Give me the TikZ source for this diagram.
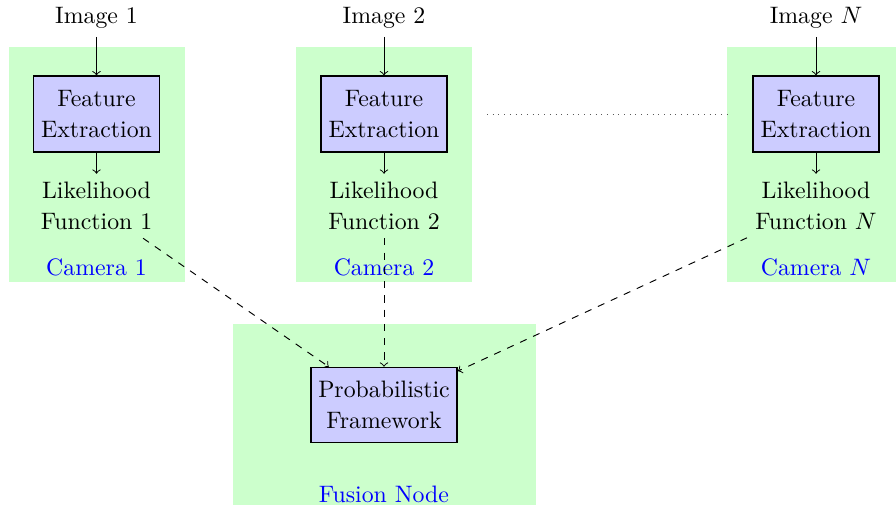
\documentclass[tikz,border=0pt]{standalone}
\usetikzlibrary{arrows}
\begin{document}
\begin{tikzpicture}[x=0.01477cm,y=-0.01477cm,
  every node/.style={font=\fontsize{10}{13}\selectfont},
  zone/.style={fill=green!20},
  procbox/.style={draw=black,semithick,fill=blue!20,align=center,
    minimum width=1.86cm,minimum height=1.12cm,inner sep=2pt},
  plain/.style={align=center},
  zonelabel/.style={text=blue},
  flow/.style={->},
  report/.style={->,dashed}]
\useasboundingbox (0,0) rectangle (896,505);

% shaded regions for each camera and the fusion node
\fill[zone] (9,47) rectangle (185,282);
\fill[zone] (296,47) rectangle (472,282);
\fill[zone] (727,47) rectangle (903,282);
\fill[zone] (233,324) rectangle (536,505);

% camera 1
\node[plain] (img1) at (96.5,18) {Image 1};
\node[procbox] (fe1) at (96.5,114) {Feature\\Extraction};
\node[plain] (lik1) at (96.5,206) {Likelihood\\Function 1};
\node[zonelabel] (cam1) at (96.5,267) {Camera 1};

% camera 2
\node[plain] (img2) at (384,18) {Image 2};
\node[procbox] (fe2) at (384,114) {Feature\\Extraction};
\node[plain] (lik2) at (384,206) {Likelihood\\Function 2};
\node[zonelabel] (cam2) at (384,267) {Camera 2};

% camera N
\node[plain] (imgN) at (816,18) {Image $N$};
\node[procbox] (feN) at (816,114) {Feature\\Extraction};
\node[plain] (likN) at (816,206) {Likelihood\\Function $N$};
\node[zonelabel] (camN) at (816,267) {Camera $N$};

% fusion node
\node[procbox,minimum width=2.16cm,minimum height=1.11cm] (pf) at (384,405) {Probabilistic\\Framework};
\node[zonelabel] (fus) at (384,494) {Fusion Node};

% processing chain inside each camera
\draw[flow] (img1) -- (fe1);
\draw[flow] (fe1) -- (lik1);
\draw[flow] (img2) -- (fe2);
\draw[flow] (fe2) -- (lik2);
\draw[flow] (imgN) -- (feN);
\draw[flow] (feN) -- (likN);

% likelihoods sent to the fusion node
\draw[report] (lik1) -- (pf);
\draw[report] (lik2) -- (pf);
\draw[report] (likN) -- (pf);

% further cameras omitted
\coordinate (dotA) at (487,114);
\coordinate (dotB) at (727,114);
\draw[dotted,gray!70!black] (dotA) -- (dotB);
\end{tikzpicture}
\end{document}
